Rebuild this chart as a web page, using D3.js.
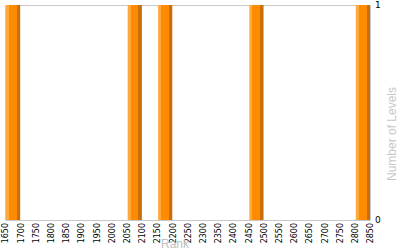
<!DOCTYPE html>
<html>
<head>
<meta charset="utf-8">
<script src="https://cdn.jsdelivr.net/npm/d3@7"></script>
<style>
  body { margin: 0; background: #fff; }
  svg { display: block; }
</style>
</head>
<body>
<script>
// histogram bins (rank), one level in each
var binStarts = [1650, 2050, 2150, 2450, 2800];
var levels = [1, 1, 1, 1, 1];
var binWidth = 50;
var rankTicks = [1650, 1700, 1750, 1800, 1850, 1900, 1950, 2000, 2050, 2100, 2150, 2200,
  2250, 2300, 2350, 2400, 2450, 2500, 2550, 2600, 2650, 2700, 2750, 2800, 2850];
var levelTicks = [0, 1];

var width = 400, height = 250;
var plotLeft = 5, plotRight = 370, plotTop = 5, plotBottom = 220;

var svg = d3.select("body").append("svg")
  .attr("width", width)
  .attr("height", height);

var x = d3.scaleLinear().domain([1650, 2850]).range([plotLeft, plotRight]);
var y = d3.scaleLinear().domain([0, 1]).range([plotBottom, plotTop]);

// bar shading
var grad = svg.append("defs").append("linearGradient")
  .attr("id", "barFill")
  .attr("x1", 0).attr("x2", 1).attr("y1", 0).attr("y2", 0);
[[0, "#ffa83c"], [0.22, "#ffa83c"], [0.22, "#ff8c00"], [0.76, "#ff8c00"], [0.76, "#c86e0c"], [1, "#c86e0c"]]
  .forEach(function(s) {
    grad.append("stop").attr("offset", s[0]).attr("stop-color", s[1]);
  });

// frame
svg.append("path")
  .attr("d", "M" + (plotLeft + 0.5) + "," + plotBottom + "V" + (plotTop + 0.5) + "H" + (plotRight + 0.5) + "V" + plotBottom)
  .attr("fill", "none")
  .attr("stroke", "#c8c8c8");

svg.selectAll(".bar")
  .data(binStarts)
  .enter().append("rect")
  .attr("class", "bar")
  .attr("x", function(d) { return x(d) + 1; })
  .attr("width", function(d) { return x(d + binWidth) - x(d) - 1; })
  .attr("y", function(d, i) { return y(levels[i]); })
  .attr("height", function(d, i) { return y(0) - y(levels[i]); })
  .attr("fill", "url(#barFill)");

// x axis
var xAxis = svg.append("g")
  .attr("transform", "translate(0," + plotBottom + ")")
  .call(d3.axisBottom(x).tickValues(rankTicks).tickSize(0).tickFormat(d3.format("d")));
xAxis.select(".domain").attr("stroke", "#c8c8c8");
xAxis.selectAll("text")
  .attr("font-family", "DejaVu Sans, Verdana, sans-serif")
  .attr("font-size", 8)
  .attr("fill", "#000")
  .attr("text-anchor", "end")
  .attr("transform", "rotate(-90)")
  .attr("x", -3)
  .attr("y", 0)
  .attr("dy", "0.35em");

// y axis on the right
var yAxis = svg.append("g")
  .attr("transform", "translate(" + plotRight + ",0)")
  .call(d3.axisRight(y).tickValues(levelTicks).tickSize(0).tickFormat(d3.format("d")));
yAxis.select(".domain").remove();
yAxis.selectAll("text")
  .attr("font-family", "DejaVu Sans, Verdana, sans-serif")
  .attr("font-size", 9)
  .attr("fill", "#000")
  .attr("x", 5);

svg.append("text")
  .attr("x", 175)
  .attr("y", 248)
  .attr("text-anchor", "middle")
  .attr("font-family", "Liberation Sans, Arial, sans-serif")
  .attr("font-size", 12)
  .attr("fill", "#c0c0c0")
  .text("Rank");

svg.append("text")
  .attr("transform", "translate(396,134) rotate(-90)")
  .attr("text-anchor", "middle")
  .attr("font-family", "Liberation Sans, Arial, sans-serif")
  .attr("font-size", 12)
  .attr("fill", "#c8c8c8")
  .text("Number of Levels");
</script>
</body>
</html>
